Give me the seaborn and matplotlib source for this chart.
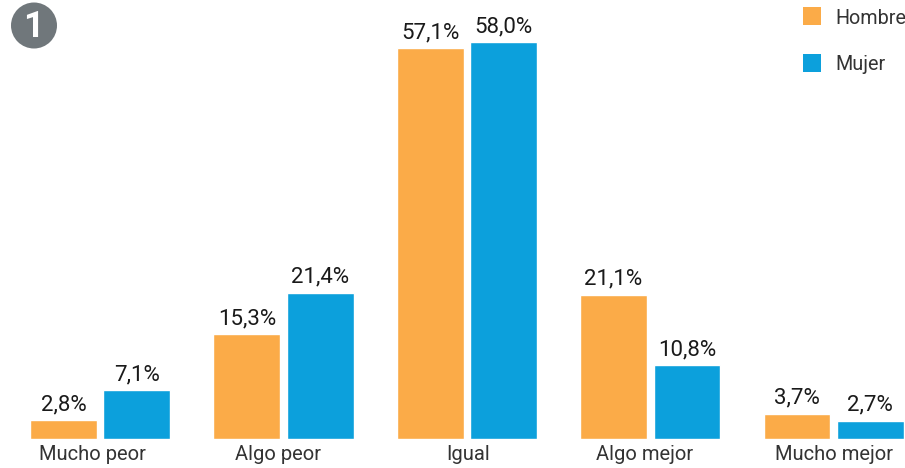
import pandas as pd
import seaborn as sns
import matplotlib
matplotlib.use('Agg')
import matplotlib.pyplot as plt
from matplotlib.patches import Ellipse, Rectangle
from matplotlib.transforms import ScaledTranslation

categories = ['Mucho peor', 'Algo peor', 'Igual', 'Algo mejor', 'Mucho mejor']
hombre = [2.8, 15.3, 57.1, 21.1, 3.7]
mujer = [7.1, 21.4, 58.0, 10.8, 2.7]
series = ['Hombre', 'Mujer']
colors = ['#fbab48', '#0ca0dc']

df = pd.DataFrame({'cat': categories * 2,
                   'val': hombre + mujer,
                   'sexo': ['Hombre'] * 5 + ['Mujer'] * 5})

sns.set_style('white')
plt.rcParams['font.family'] = ['Roboto', 'DejaVu Sans']

f = plt.figure(figsize=(9.05, 4.68), dpi=100)
ax = f.add_axes([0, 29 / 468, 1, 439 / 468])

sns.barplot(data=df, x='cat', y='val', hue='sexo', palette=colors, order=categories,
            hue_order=series, width=0.8, gap=0.09, saturation=1, legend=False, ax=ax)

# 58,0% is about 397 px tall
ax.set_ylim(0, 439 / (397 / 58.0))
ax.set_xlim(-0.546, 4.389)
ax.set_xlabel('')
ax.set_ylabel('')
ax.set_yticks([])
ax.tick_params(axis='x', length=0, pad=4, labelsize=14.5, labelcolor='#333333')
sns.despine(ax=ax, left=True, bottom=True)

# tick labels are not quite centred under the groups in the original
shifts = [-8, -6, 1.5, -6, 0]
for lab, dx in zip(ax.get_xticklabels(), shifts):
    lab.set_transform(lab.get_transform() + ScaledTranslation(dx / 100, 0, f.dpi_scale_trans))

for c in ax.containers:
    labels = [f'{v:.1f}%'.replace('.', ',') for v in c.datavalues]
    ax.bar_label(c, labels=labels, padding=3.5, fontsize=16, color='#1a1a1a')

# legend squares
for i, (s, col) in enumerate(zip(series, colors)):
    y = 1 - (16 + 47 * i) / 468
    f.patches.append(Rectangle((803 / 905, y - 9 / 468), 18 / 905, 18 / 468,
                               transform=f.transFigure, color=col, lw=0))
    f.text(835 / 905, y - 2 / 468, s, fontsize=14.2, va='center', color='#333333')

# number badge
f.patches.append(Ellipse((34 / 905, 1 - 25.5 / 468), 46 / 905, 46 / 468,
                         transform=f.transFigure, color='#70777b', lw=0))
f.text(33.5 / 905, 1 - 27 / 468, '1', fontsize=26, fontweight='bold', color='white',
       ha='center', va='center')

f.savefig('out.png', dpi=100)
